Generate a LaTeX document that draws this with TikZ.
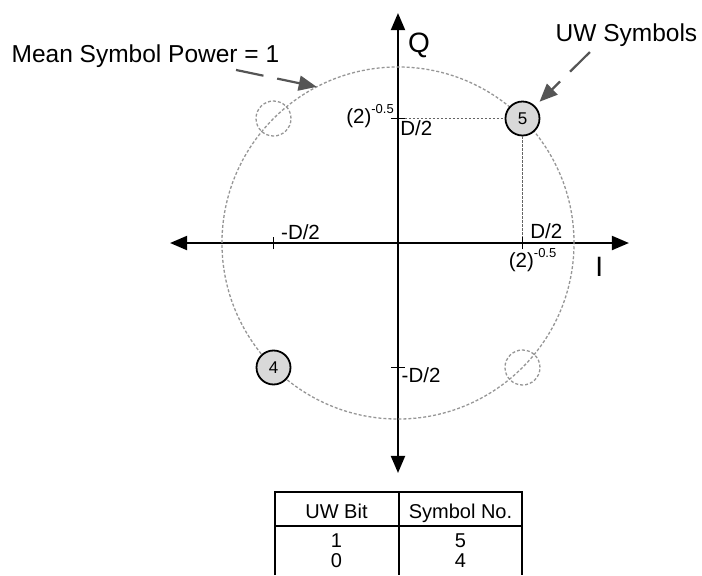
\documentclass[tikz,border=0pt]{standalone}
\usepackage{fontspec}
\setmainfont{Liberation Sans}
\usetikzlibrary{arrows.meta}

\definecolor{symfill}{RGB}{217,217,217}
\definecolor{ringgray}{RGB}{150,150,150}
\definecolor{guidegray}{RGB}{100,100,100}
\definecolor{callgray}{RGB}{85,85,85}

\newcommand{\fs}[1]{\fontsize{#1}{#1}\selectfont}
\newcommand{\rootlbl}{(2)\raisebox{10pt}{\fs{13}-0.5}}

\begin{document}
\begin{tikzpicture}[x=124.5pt, y=124.5pt,
    axisline/.style={line width=2pt,
        {Triangle[length=17pt,width=14pt]}-{Triangle[length=17pt,width=14pt]}},
    ring/.style={ringgray, line width=1.3pt, dash pattern=on 3pt off 2pt},
    tickmark/.style={line width=1.8pt},
    guide/.style={guidegray, line width=1.6pt, dash pattern=on 2.5pt off 1.5pt},
    sym/.style={circle, draw, line width=1.8pt, fill=symfill,
        minimum size=34pt, inner sep=0pt, font=\fs{17}},
    ghost/.style={circle, draw=ringgray, line width=1.3pt, dash pattern=on 3pt off 2pt,
        minimum size=35pt, inner sep=0pt},
    lbl/.style={inner sep=0pt, font=\fs{20.5}},
    callout/.style={inner sep=0pt, font=\fs{24.5}},
    pointer/.style={callgray, line width=2.2pt, dash pattern=on 28pt off 14pt,
        -{Triangle[length=18pt,width=15pt]}},
    tbl/.style={line width=2pt},
    cell/.style={anchor=base, inner sep=0pt, font=\fs{20}}]

    \useasboundingbox (-3.197,-2.667) rectangle (2.442,1.952);

    % axes
    \coordinate (O) at (0,0);
    \coordinate (Iminus) at (-1.831,0);
    \coordinate (Iplus) at (1.855,0);
    \coordinate (Qplus) at (0,1.847);
    \coordinate (Qminus) at (0,-1.847);
    \draw[axisline] (Iminus) -- (Iplus);
    \draw[axisline] (Qminus) -- (Qplus);

    \node[anchor=base west, inner sep=0pt, font=\fs{28}] (Qlbl) at (0.08,1.534) {Q};
    \node[anchor=base west, inner sep=0pt, font=\fs{28}] (Ilbl) at (1.583,-0.273) {I};

    % mean power circle
    \draw[ring] (O) circle[radius=1.414];

    % ticks
    \coordinate (ti) at (1,0);
    \coordinate (tin) at (-1,0);
    \coordinate (tq) at (0,1);
    \coordinate (tqn) at (0,-1);
    \foreach \t in {ti,tin} {
        \draw[tickmark] ([yshift=-6pt]\t) -- ([yshift=6pt]\t);
    }
    \foreach \t in {tq,tqn} {
        \draw[tickmark] ([xshift=-7pt]\t) -- ([xshift=7pt]\t);
    }

    % symbols
    \node[ghost] (g2) at (-1,1) {};
    \node[ghost] (g3) at (1,-1) {};
    \node[sym] (s5) at (1,1) {5};
    \node[sym] (s4) at (-1,-1) {4};

    \draw[guide] ([xshift=7pt]tq) -- (s5);
    \draw[guide] (s5) -- ([yshift=6pt]ti);

    % tick labels
    \node[lbl, anchor=base west] (dI) at (1.061,0.04) {D/2};
    \node[lbl, anchor=base west] (dIn) at (-0.94,0.032) {-D/2};
    \node[lbl, anchor=base west] (rI) at (0.889,-0.2) {\rootlbl};
    \node[lbl, anchor=base east] (rQ) at (-0.032,0.956) {\rootlbl};
    \node[lbl, anchor=base west] (dQ) at (0.018,0.867) {D/2};
    \node[lbl, anchor=base west] (dQn) at (0.028,-1.124) {-D/2};

    % callouts
    \node[callout, anchor=base west] (pwrlbl) at (-3.105,1.446) {Mean Symbol Power = 1};
    \node[callout, anchor=base west] (uwlbl) at (1.265,1.622) {UW Symbols};
    \coordinate (pwrtail) at (-1.301,1.390);
    \coordinate (pwrtip) at (117.5:1.414);
    \draw[pointer] (pwrtail) -- (pwrtip);
    \coordinate (uwtail) at (1.542,1.534);
    \draw[pointer, shorten >=6pt] (uwtail) -- (s5);

    % table
    \draw[tbl] (-0.99,-2.667) |- (1.0,-2.0) -- (1.0,-2.667);
    \draw[tbl] (-0.99,-2.273) -- (1.0,-2.273);
    \draw[tbl] (0.005,-2.0) -- (0.005,-2.667);
    \node[cell] (hbit) at (-0.494,-2.209) {UW Bit};
    \node[cell] (hsym) at (0.502,-2.209) {Symbol No.};
    \node[cell] (bit1) at (-0.494,-2.442) {1};
    \node[cell] (sym1) at (0.502,-2.442) {5};
    \node[cell] (bit0) at (-0.494,-2.610) {0};
    \node[cell] (sym0) at (0.502,-2.610) {4};
\end{tikzpicture}
\end{document}
